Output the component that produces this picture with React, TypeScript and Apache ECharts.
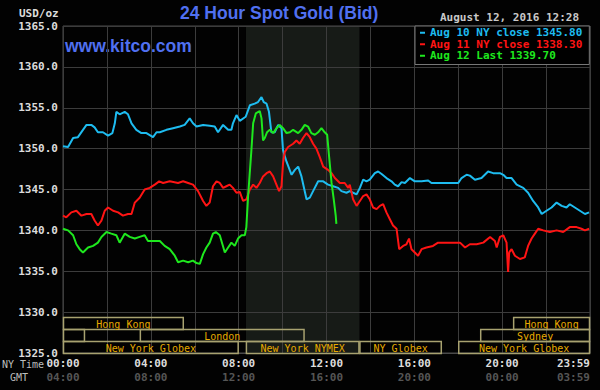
import React, { useEffect, useRef } from "react";
import * as echarts from "echarts";

// ---- data (NY time in hours, USD/oz) ----
const cyanData: number[][] = [[0,1350.3],[0.23,1350.2],[0.46,1351.3],[0.68,1351.4],[0.91,1352.3],[1.07,1352.9],[1.29,1352.9],[1.44,1352.6],[1.59,1352.0],[1.82,1352.0],[2.05,1351.6],[2.25,1351.9],[2.36,1353.1],[2.43,1354.5],[2.58,1354.2],[2.81,1354.5],[2.96,1354.2],[3.12,1353.1],[3.34,1352.3],[3.57,1351.9],[3.80,1351.9],[4.10,1351.4],[4.26,1352.0],[4.41,1352.0],[4.71,1352.3],[5.01,1352.5],[5.32,1352.7],[5.54,1352.9],[5.77,1353.7],[5.92,1353.1],[6.08,1352.7],[6.38,1352.9],[6.68,1352.8],[6.91,1352.7],[7.06,1352.0],[7.29,1352.9],[7.52,1352.3],[7.67,1352.3],[7.74,1353.1],[7.90,1354.1],[8.05,1353.4],[8.32,1353.9],[8.51,1355.3],[8.73,1355.5],[8.88,1355.7],[9.04,1356.3],[9.14,1355.7],[9.27,1355.5],[9.38,1354.5],[9.49,1352.0],[9.64,1352.0],[9.80,1352.9],[9.95,1352.5],[10.02,1349.8],[10.18,1348.4],[10.41,1346.8],[10.56,1347.4],[10.71,1347.8],[10.86,1346.6],[11.09,1343.8],[11.24,1344.0],[11.39,1344.8],[11.62,1346.0],[11.85,1346.0],[12.07,1345.6],[12.30,1345.4],[12.53,1345.2],[12.68,1344.8],[12.91,1344.6],[13.06,1344.8],[13.21,1344.6],[13.37,1344.4],[13.52,1345.2],[13.67,1346.2],[13.82,1346.0],[13.97,1346.2],[14.20,1347.0],[14.35,1347.2],[14.51,1346.9],[14.73,1346.4],[14.96,1346.0],[15.11,1345.6],[15.26,1345.4],[15.42,1345.9],[15.57,1345.8],[15.80,1346.4],[16.02,1346.0],[16.33,1346.0],[16.63,1346.1],[16.78,1345.8],[17.01,1345.8],[17.47,1345.8],[18.00,1345.8],[18.15,1346.4],[18.38,1346.8],[18.53,1346.7],[18.76,1346.2],[19.06,1346.4],[19.36,1347.2],[19.59,1347.0],[19.90,1347.0],[20.05,1346.8],[20.20,1346.4],[20.43,1346.4],[20.66,1345.6],[20.96,1345.2],[21.18,1344.6],[21.41,1343.6],[21.64,1342.8],[21.80,1342.0],[22.02,1342.4],[22.25,1342.8],[22.48,1343.4],[22.71,1343.0],[22.93,1342.8],[23.08,1343.2],[23.31,1342.8],[23.54,1342.4],[23.77,1342.0],[23.96,1342.2]];

const redData: number[][] = [[0,1341.8],[0.15,1341.6],[0.38,1342.2],[0.61,1342.4],[0.84,1341.8],[1.07,1342.0],[1.29,1342.0],[1.44,1341.2],[1.59,1340.6],[1.75,1341.2],[1.90,1342.4],[2.05,1342.8],[2.28,1342.4],[2.51,1342.2],[2.73,1341.8],[2.96,1342.0],[3.12,1342.0],[3.27,1343.4],[3.49,1344.0],[3.72,1345.0],[3.95,1345.2],[4.18,1345.6],[4.38,1346.0],[4.56,1345.8],[4.86,1346.0],[5.24,1345.8],[5.47,1346.0],[5.70,1345.8],[5.92,1345.6],[6.15,1344.8],[6.38,1343.6],[6.53,1343.0],[6.68,1343.4],[6.83,1345.4],[6.99,1346.0],[7.14,1345.8],[7.29,1345.2],[7.44,1345.4],[7.59,1345.6],[7.74,1345.2],[7.90,1344.6],[8.05,1344.7],[8.20,1343.6],[8.35,1343.8],[8.51,1345.0],[8.66,1345.6],[8.81,1345.2],[8.96,1345.8],[9.11,1346.6],[9.27,1347.0],[9.42,1347.2],[9.57,1346.6],[9.72,1345.6],[9.84,1344.8],[9.95,1345.4],[10.02,1348.2],[10.10,1349.6],[10.25,1350.2],[10.48,1350.6],[10.63,1351.0],[10.78,1350.6],[10.93,1351.3],[11.09,1351.9],[11.24,1351.4],[11.39,1350.6],[11.54,1350.0],[11.69,1349.0],[11.85,1347.8],[12.07,1347.4],[12.23,1347.0],[12.38,1346.4],[12.61,1345.8],[12.83,1345.8],[12.99,1345.2],[13.06,1345.6],[13.21,1343.8],[13.37,1343.0],[13.52,1343.6],[13.67,1344.2],[13.82,1344.4],[13.97,1343.8],[14.12,1342.8],[14.28,1342.6],[14.43,1343.0],[14.58,1343.2],[14.73,1342.2],[14.88,1341.4],[15.03,1340.6],[15.19,1340.2],[15.31,1337.7],[15.49,1338.1],[15.64,1338.3],[15.76,1339.0],[15.87,1337.7],[16.02,1337.3],[16.17,1336.9],[16.33,1337.7],[16.55,1337.9],[16.85,1338.1],[17.08,1338.5],[17.62,1338.5],[18.08,1338.5],[18.31,1337.9],[18.53,1338.3],[18.84,1338.3],[19.14,1338.5],[19.45,1339.2],[19.67,1338.7],[19.75,1337.9],[19.90,1339.2],[20.05,1339.4],[20.20,1338.5],[20.27,1334.9],[20.32,1337.3],[20.43,1337.7],[20.58,1336.9],[20.81,1336.5],[21.03,1336.7],[21.18,1338.1],[21.34,1339.0],[21.49,1339.6],[21.64,1340.2],[21.87,1340.0],[22.17,1339.8],[22.48,1340.0],[22.78,1339.8],[23.08,1340.4],[23.39,1340.4],[23.61,1340.2],[23.77,1340.0],[23.96,1340.2]];

const greenData: number[][] = [[0,1340.2],[0.23,1340.0],[0.46,1339.4],[0.61,1338.3],[0.76,1337.7],[0.91,1337.3],[1.14,1337.9],[1.37,1338.1],[1.59,1338.5],[1.75,1339.2],[1.98,1339.8],[2.20,1339.6],[2.43,1339.4],[2.58,1338.5],[2.81,1339.6],[3.04,1339.2],[3.27,1339.0],[3.49,1339.2],[3.72,1339.4],[3.87,1338.7],[4.10,1338.7],[4.41,1338.7],[4.63,1338.1],[4.86,1337.7],[5.09,1336.9],[5.24,1336.1],[5.47,1336.3],[5.70,1336.1],[5.92,1336.3],[6.08,1336.0],[6.23,1335.9],[6.38,1337.1],[6.53,1337.9],[6.68,1338.5],[6.83,1339.6],[6.96,1339.8],[7.14,1339.4],[7.26,1338.3],[7.37,1337.3],[7.52,1337.9],[7.67,1338.5],[7.82,1338.1],[7.97,1339.0],[8.13,1339.4],[8.28,1339.4],[8.35,1340.4],[8.43,1344.2],[8.58,1349.8],[8.66,1353.1],[8.78,1354.3],[8.96,1354.6],[9.04,1353.7],[9.11,1351.0],[9.19,1351.3],[9.29,1352.0],[9.42,1352.3],[9.57,1351.9],[9.72,1352.5],[9.87,1352.9],[10.02,1352.5],[10.18,1351.9],[10.33,1352.0],[10.48,1352.3],[10.71,1351.9],[10.86,1352.3],[11.01,1352.9],[11.16,1352.7],[11.31,1351.9],[11.47,1351.7],[11.62,1352.0],[11.77,1352.5],[11.92,1352.0],[12.03,1351.7],[12.12,1349.0],[12.23,1345.8],[12.33,1343.8],[12.42,1341.8],[12.45,1340.8]];

const seriesNames = ["Aug 10 NY close 1345.80", "Aug 11 NY close 1338.30", "Aug 12 Last 1339.70"];
const seriesColors = ["#1ebcf0", "#ff1414", "#1ee81e"];

const nyTimeLabels = ["00:00", "04:00", "08:00", "12:00", "16:00", "20:00", "23:59"];
const gmtLabels = ["04:00", "08:00", "12:00", "16:00", "20:00", "00:00", "03:59"];

// [start hour, end hour, row]
const sessionRanges: number[][] = [[0,5.5,0],[20.5,24,0],[0,1,1],[3.5,11,1],[19,24,1],[0,8,2],[8.33,13.5,2],[13.5,17.25,2],[18,24,2]];
const sessionNames = ["Hong Kong", "Hong Kong", "", "London", "Sydney", "New York Globex", "New York NYMEX", "NY Globex", "New York Globex"];

const comexSession = [8.333, 13.5];

const Y_MIN = 1325;
const Y_MAX = 1365;

const MONO = '"DejaVu Sans Mono", "Liberation Mono", monospace';
const SANS = '"Liberation Sans", Arial, sans-serif';

export default function App() {
  const ref = useRef<HTMLDivElement>(null);

  useEffect(() => {
    if (!ref.current) return;
    const chart = echarts.init(ref.current, undefined, { renderer: "svg" });
    const dataSets = [cyanData, redData, greenData];

    const lineSeries: any[] = dataSets.map((d, i) => ({
      type: "line",
      name: seriesNames[i],
      data: d,
      showSymbol: false,
      symbol: "none",
      silent: true,
      z: 3,
      lineStyle: { color: seriesColors[i], width: 2 },
      itemStyle: { color: seriesColors[i] },
    }));
    lineSeries[0].markArea = {
      silent: true,
      z: 0,
      itemStyle: { color: "#171b17" },
      data: [[{ xAxis: comexSession[0] }, { xAxis: comexSession[1] }]],
    };

    const sessionSeries = {
      type: "custom",
      silent: true,
      z: 3,
      encode: { x: [0, 1] },
      data: sessionRanges,
      renderItem: (params: any, api: any) => {
        const s = api.value(0);
        const e = api.value(1);
        const row = api.value(2);
        const a = api.coord([s, Y_MIN]);
        const b = api.coord([e, Y_MIN]);
        const rowH = 12;
        const y = a[1] - rowH * (3 - row);
        const w = b[0] - a[0];
        const name = sessionNames[params.dataIndex];
        const children: any[] = [
          {
            type: "rect",
            shape: { x: a[0] + 0.5, y: y + 0.5, width: w - 1, height: rowH },
            style: { fill: "none", stroke: "#a8a270", lineWidth: 1.5 },
          },
        ];
        if (name && w > 40) {
          children.push({
            type: "text",
            style: {
              text: name,
              x: (a[0] + b[0]) / 2,
              y: y + rowH / 2 + 1,
              align: "center",
              verticalAlign: "middle",
              fill: "#e6aa00",
              font: `10px ${MONO}`,
            },
          });
        }
        return { type: "group", children };
      },
    };

    chart.setOption({
      animation: false,
      backgroundColor: "#020202",
      title: {
        text: "24 Hour Spot Gold (Bid)",
        left: 180,
        top: 4,
        padding: 0,
        textStyle: { color: "#5070f0", fontSize: 17.5, fontWeight: "bold", fontFamily: SANS },
      },
      grid: {
        left: 63,
        right: 10,
        top: 26,
        bottom: 37,
        show: true,
        borderColor: "#4a4a4a",
        borderWidth: 1,
        containLabel: false,
      },
      legend: {
        orient: "vertical",
        left: 415,
        top: 26,
        padding: [1, 7, 3, 5],
        itemGap: 0,
        itemWidth: 5,
        itemHeight: 2,
        icon: "rect",
        backgroundColor: "#000",
        borderColor: "#777",
        borderWidth: 1,
        selectedMode: false,
        z: 10,
        textStyle: { fontFamily: MONO, fontWeight: "bold", fontSize: 11, lineHeight: 11.5 },
        data: seriesNames.map((n, i) => ({ name: n, textStyle: { color: seriesColors[i] } })),
      },
      xAxis: {
        type: "value",
        min: 0,
        max: 24,
        interval: 2,
        z: 1,
        axisLine: { show: true, lineStyle: { color: "#4a4a4a" } },
        axisTick: { show: false },
        splitLine: { show: true, lineStyle: { color: "#3c3c3c", width: 1 } },
        axisLabel: {
          margin: 3,
          alignMaxLabel: "right",
          showMinLabel: true,
          showMaxLabel: true,
          formatter: (v: number) => {
            if (v % 4 !== 0) return "";
            const i = v / 4;
            return `{a|${nyTimeLabels[i]}}\n{b|${gmtLabels[i]}}`;
          },
          rich: {
            a: { color: "#dcdcdc", fontFamily: MONO, fontWeight: "bold", fontSize: 11, lineHeight: 14.5 },
            b: { color: "#555", fontFamily: MONO, fontWeight: "bold", fontSize: 11, lineHeight: 14.5 },
          },
        },
      },
      yAxis: {
        type: "value",
        min: Y_MIN,
        max: Y_MAX,
        interval: 5,
        z: 1,
        axisLine: { show: false },
        axisTick: { show: false },
        splitLine: { show: true, lineStyle: { color: "#3c3c3c", width: 1 } },
        axisLabel: {
          margin: 5,
          color: "#dcdcdc",
          fontFamily: MONO,
          fontWeight: "bold",
          fontSize: 11,
          formatter: (v: number) => v.toFixed(1),
        },
      },
      graphic: [
        { type: "text", left: 19, top: 8, style: { text: "USD/oz", fill: "#dcdcdc", font: `bold 11px ${MONO}` } },
        { type: "text", left: 65, top: 37, style: { text: "www.kitco.com", fill: "#5070f0", font: `bold 17.5px ${SANS}` } },
        { type: "text", left: 440, top: 12, style: { text: "August 12, 2016 12:28", fill: "#c8c8c8", font: `bold 11px ${MONO}` } },
        { type: "text", left: 2, top: 359, style: { text: "NY Time", fill: "#bdbdbd", font: `10px ${MONO}` } },
        { type: "text", left: 10, top: 372, style: { text: "GMT", fill: "#bdbdbd", font: `10px ${MONO}` } },
      ],
      series: [...lineSeries, sessionSeries],
    });

    return () => chart.dispose();
  }, []);

  return <div ref={ref} style={{ position: "fixed", left: 0, top: 0, width: 600, height: 390 }} />;
}
